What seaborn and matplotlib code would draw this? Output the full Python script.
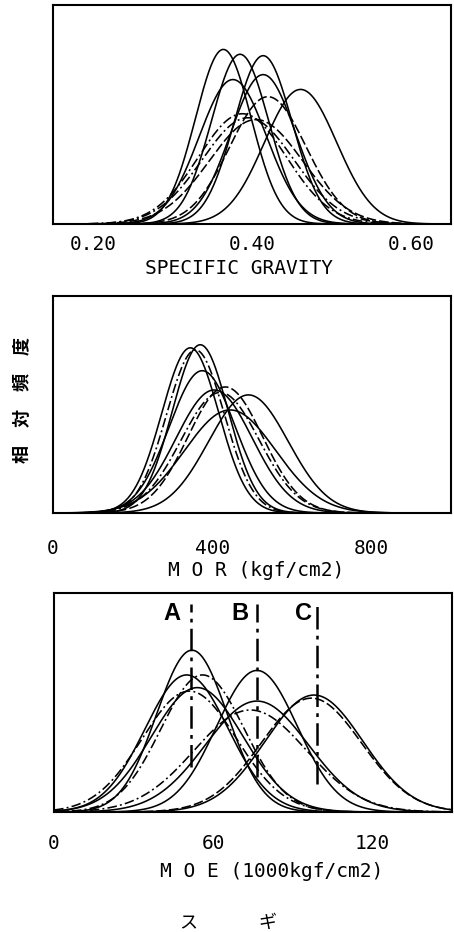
import numpy as np
import pandas as pd
import matplotlib
matplotlib.use("Agg")
import matplotlib.pyplot as plt
import seaborn as sns

# ---- data: fitted normal distributions (mean, standard deviation) ----
sg_means = [0.364, 0.385, 0.414, 0.376, 0.414, 0.461, 0.420, 0.395, 0.405, 0.388]
sg_sds = [0.035, 0.036, 0.0363, 0.0423, 0.0409, 0.0454, 0.048, 0.0575, 0.0585, 0.0554]

mor_means = [345, 358, 370, 375, 405, 433, 445, 491, 420]
mor_sds = [71.5, 72.4, 70.2, 83.0, 96.0, 93.7, 114.6, 100.0, 98.0]

moe_means = [52, 50, 56, 54, 51, 76.5, 76.5, 74, 98, 97]
moe_sds = [13.3, 15.7, 15.7, 17.3, 17.8, 15.2, 19.4, 21.1, 18.4, 18.9]

group_labels = ["A", "B", "C"]
group_moe = [51.5, 76.5, 99.0]

sg_ticks = [0.20, 0.40, 0.60]
mor_ticks = [0, 400, 800]
moe_ticks = [0, 60, 120]

# ---- styling ----
sns.set_theme(style="white")
plt.rcParams["font.family"] = ["DejaVu Sans Mono", "DejaVu Sans"]
CJK = ["Noto Sans CJK JP", "DejaVu Sans"]

SOLID = "-"
DASH = (0, (6, 2))
DASHDOT = (0, (6, 2, 1.2, 2))
sg_styles = [SOLID, SOLID, SOLID, SOLID, SOLID, SOLID, DASH, DASHDOT, DASH, DASHDOT]
mor_styles = [SOLID, DASHDOT, SOLID, SOLID, SOLID, DASH, SOLID, SOLID, DASHDOT]
moe_styles = [SOLID, SOLID, DASHDOT, SOLID, DASHDOT, SOLID, SOLID, DASHDOT, SOLID, DASH]

W, H = 454, 932
fig = plt.figure(figsize=(W / 100, H / 100), dpi=100)


def panel(left, top, right, bottom):
    return fig.add_axes([left / W, 1 - bottom / H, (right - left) / W, (bottom - top) / H])


def normal_pdf(x, m, s):
    return np.exp(-0.5 * ((x - m) / s) ** 2) / (s * np.sqrt(2 * np.pi))


def draw_panel(ax, means, sds, styles, lo, hi, ymax, step, labels, fmt,
               title, pad, title_xy):
    x = np.linspace(lo, hi, 800)
    for m, s, ls in zip(means, sds, styles):
        df = pd.DataFrame({"x": x, "y": normal_pdf(x, m, s)})
        sns.lineplot(data=df, x="x", y="y", ax=ax, color="black", lw=1.15,
                     linestyle=ls, estimator=None, sort=False)
    ax.set_xlim(lo, hi)
    ax.set_ylim(0, ymax)
    ticks = np.arange(lo, hi + step / 2, step)
    ax.set_xticks(ticks)
    ax.set_xticklabels([fmt(t) if np.any(np.isclose(t, labels)) else "" for t in ticks])
    ax.set_yticks([])
    ax.set_ylabel("")
    ax.tick_params(axis="x", direction="in", length=7, width=1.1, pad=pad,
                   labelsize=14, colors="black")
    for sp in ax.spines.values():
        sp.set_color("black")
        sp.set_linewidth(1.5)
    ax.set_xlabel(title, fontsize=14, color="black")
    ax.xaxis.set_label_coords(*title_xy)


ax1 = panel(53, 5, 451, 224)
draw_panel(ax1, sg_means, sg_sds, sg_styles, 0.15, 0.65, 14.3, 0.05, sg_ticks,
           lambda t: f"{t:.2f}", "SPECIFIC GRAVITY", 8, (0.467, -0.16))

ax2 = panel(53, 296, 451, 513)
draw_panel(ax2, mor_means, mor_sds, mor_styles, 0, 1000, 0.00733, 100, mor_ticks,
           lambda t: f"{t:.0f}", "M O R (kgf/cm2)", 19, (0.51, -0.222))

ax3 = panel(54, 593, 452, 812)
draw_panel(ax3, moe_means, moe_sds, moe_styles, 0, 150, 0.0406, 15, moe_ticks,
           lambda t: f"{t:.0f}", "M O E (1000kgf/cm2)", 16, (0.548, -0.228))

# group markers A, B, C on the MOE panel
line_bottoms = [0.205, 0.16, 0.13]
label_offsets = [-7, -6.5, -5]
for lab, xv, yb, dx in zip(group_labels, group_moe, line_bottoms, label_offsets):
    ax3.axvline(xv, ymin=yb, ymax=0.95, color="black", lw=1.8,
                linestyle=(0, (9, 2.5, 1.5, 2.5)))
    ax3.text(xv + dx, 0.905, lab, transform=ax3.get_xaxis_transform(),
             ha="center", va="center", fontsize=17, fontweight="bold",
             family=["Liberation Sans", "DejaVu Sans"], color="black")

# vertical axis caption and species name
fig.text(23 / W, 1 - 400 / H, "相　対　頻　度", rotation=90, ha="center", va="center",
         fontsize=13, fontweight="bold", family=CJK, color="black")
fig.text(188 / W, 1 - 923 / H, "ス", ha="center", va="center", fontsize=13,
         family=CJK, color="black")
fig.text(267 / W, 1 - 923 / H, "ギ", ha="center", va="center", fontsize=13,
         family=CJK, color="black")

fig.savefig("out.png", dpi=100, facecolor="white")
